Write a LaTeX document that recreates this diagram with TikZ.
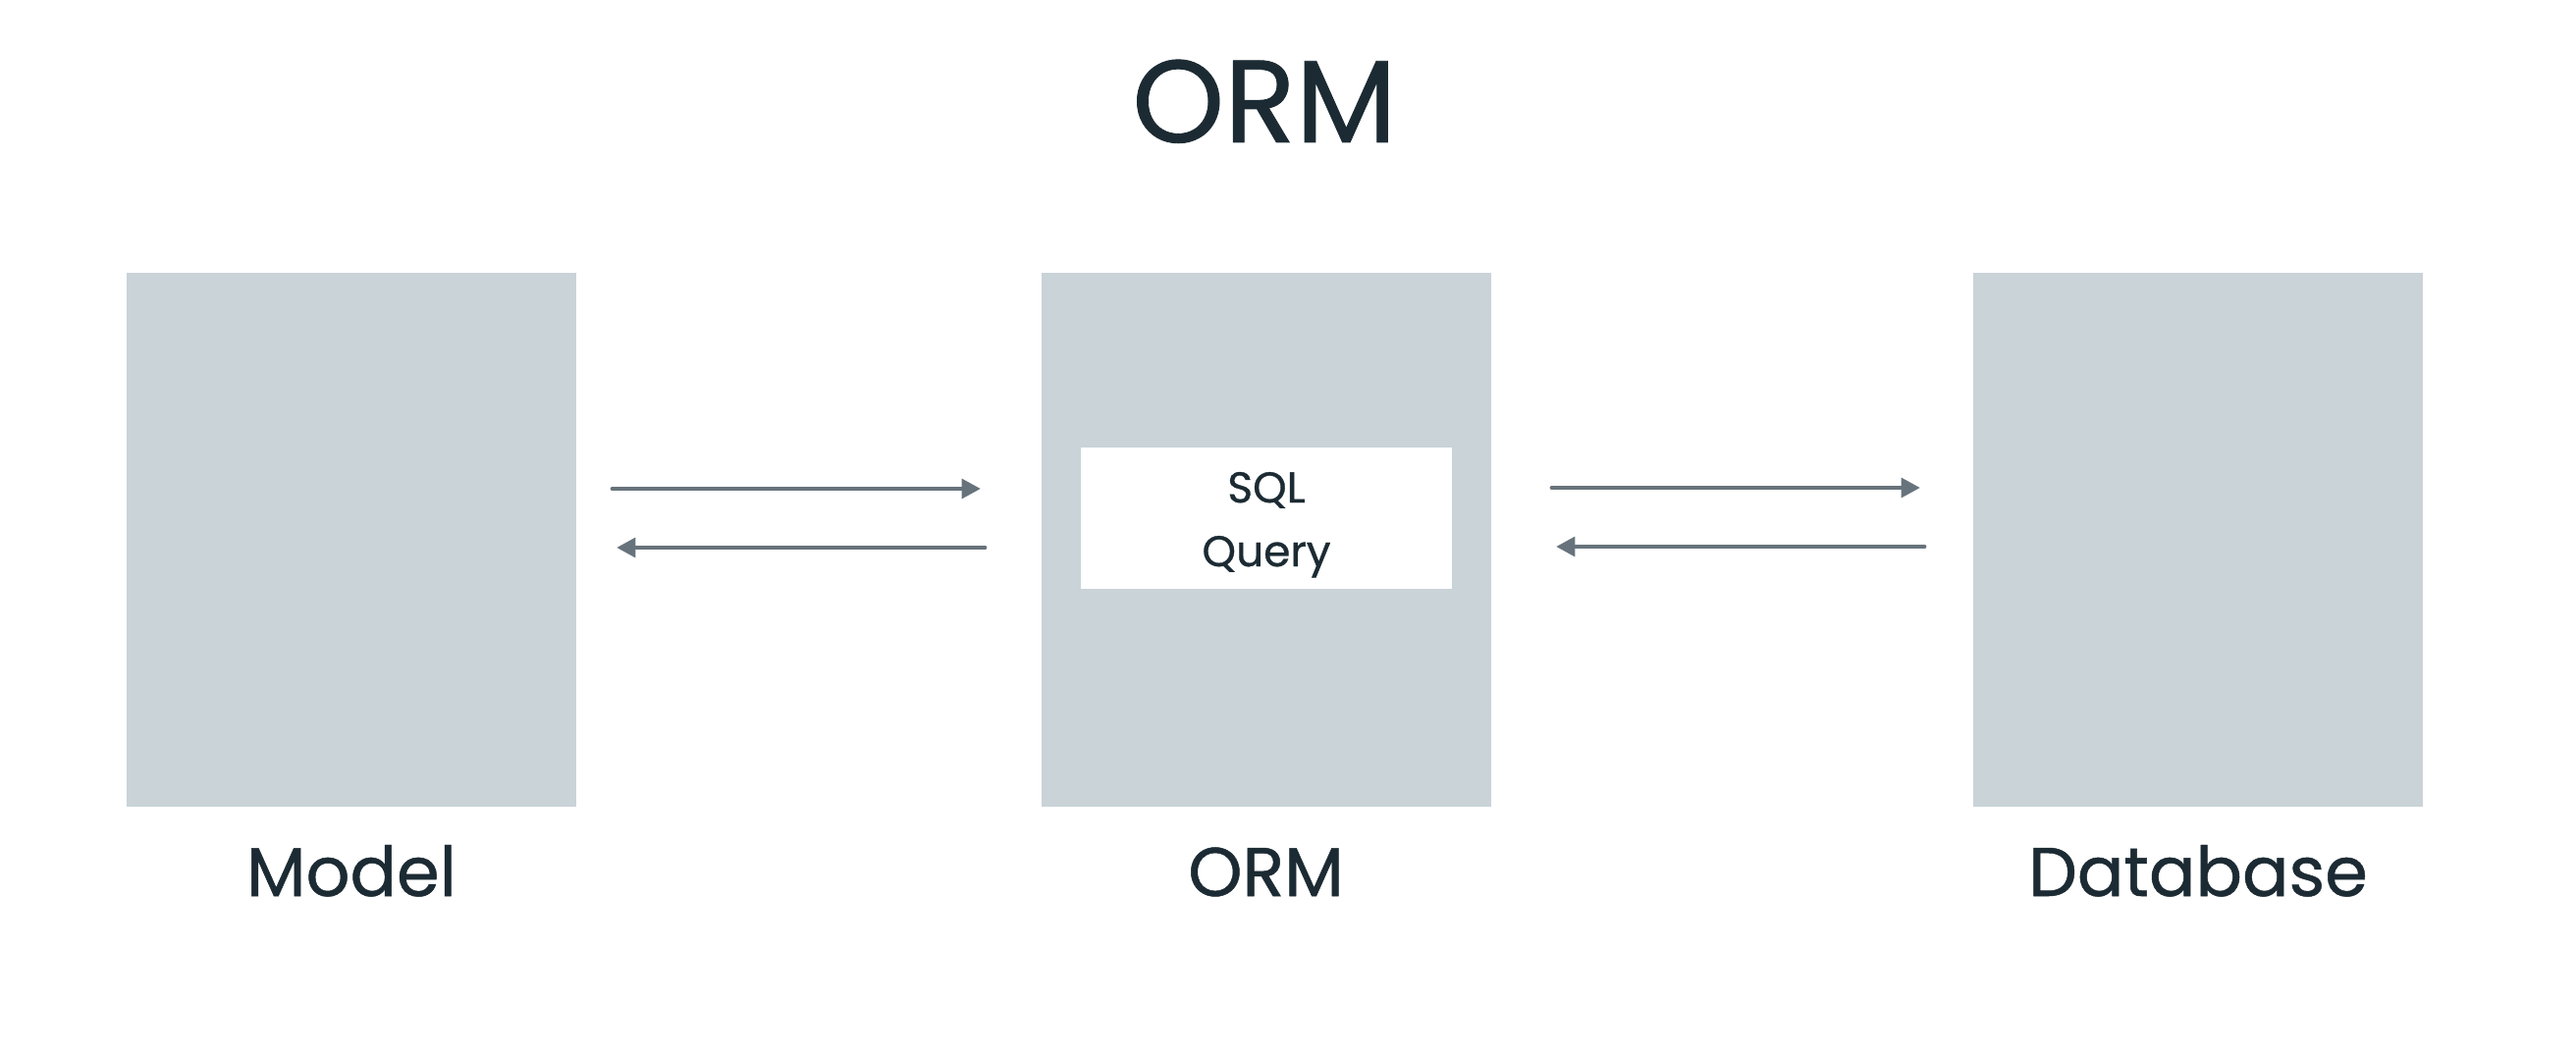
\documentclass[tikz,border=0pt]{standalone}
\usepackage{fontspec}
\setmainfont{Poppins}[FakeBold=0.7]
\usetikzlibrary{arrows.meta}

\definecolor{boxgray}{HTML}{C9D3D8}
\definecolor{arrowgray}{HTML}{67737C}
\definecolor{inkdark}{HTML}{1C2B33}

\begin{document}
\begin{tikzpicture}
  [x=1cm,y=1cm,
   blockbox/.style={rectangle, fill=boxgray, inner sep=0pt, minimum width=4.58cm, minimum height=5.44cm},
   querybox/.style={rectangle, fill=white, inner sep=0pt, minimum width=3.78cm, minimum height=1.44cm},
   querytext/.style={anchor=base, text=inkdark, font=\fontsize{12.5}{15}\selectfont},
   caption/.style={anchor=base, text=inkdark, font=\fontsize{20}{24}\selectfont},
   flow/.style={draw=arrowgray, line width=1.4pt, line cap=round, -{Triangle[length=5.5pt,width=5.5pt]}}]

 \useasboundingbox[fill=white] (0,0) rectangle (26.24,-10.74);

 \node[anchor=base, text=inkdark, font=\fontsize{34}{40}\selectfont] (title) at (12.88,-1.45) {ORM};

 \node[blockbox] (model) at (3.58,-5.50) {};
 \node[blockbox] (orm) at (12.895,-5.50) {};
 \node[blockbox] (db) at (22.39,-5.50) {};

 \node[querybox] (query) at (12.90,-5.28) {};
 \node[querytext] (sql) at (12.90,-5.12) {SQL};
 \node[querytext] (qry) at (12.90,-5.77) {Query};

 \node[caption] (modellabel) at (3.58,-9.13) {Model};
 \node[caption] (ormlabel) at (12.895,-9.13) {ORM};
 \node[caption] (dblabel) at (22.39,-9.13) {Database};

 % arrow ends
 \coordinate (ma) at (6.24,-4.98);
 \coordinate (oa) at (9.99,-4.98);
 \coordinate (mb) at (6.28,-5.58);
 \coordinate (ob) at (10.03,-5.58);
 \coordinate (oc) at (15.81,-4.97);
 \coordinate (dc) at (19.56,-4.97);
 \coordinate (od) at (15.85,-5.57);
 \coordinate (dd) at (19.60,-5.57);

 \foreach \from/\to in {ma/oa, ob/mb, oc/dc, dd/od}
   \draw[flow] (\from) -- (\to);

\end{tikzpicture}
\end{document}
